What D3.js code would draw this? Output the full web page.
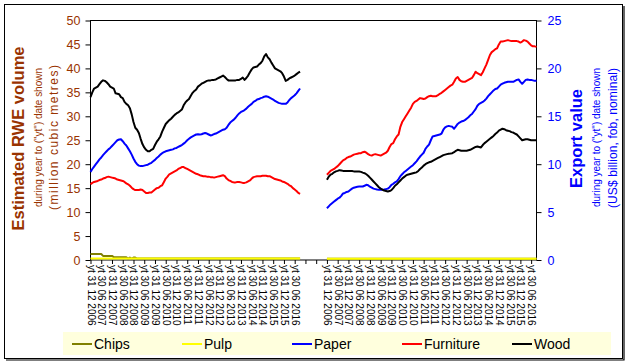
<!DOCTYPE html>
<html>
<head>
<meta charset="utf-8">
<script src="https://cdn.jsdelivr.net/npm/d3@7"></script>
<style>
  body { margin: 0; background: #fff; }
  svg { display: block; font-family: "Liberation Sans", Arial, sans-serif; }
</style>
</head>
<body>
<div id="chart"></div>
<script>
// tick labels, one every 6 months, shared by both halves of the x axis
var tickLabels = ["yt 31 12 2006", "yt 30 06 2007", "yt 31 12 2007", "yt 30 06 2008", "yt 31 12 2008",
  "yt 30 06 2009", "yt 31 12 2009", "yt 30 06 2010", "yt 31 12 2010", "yt 30 06 2011",
  "yt 31 12 2011", "yt 30 06 2012", "yt 31 12 2012", "yt 30 06 2013", "yt 31 12 2013",
  "yt 30 06 2014", "yt 31 12 2014", "yt 30 06 2015", "yt 31 12 2015", "yt 30 06 2016"];

var seriesNames = ["Chips", "Pulp", "Paper", "Furniture", "Wood"];
var seriesColors = ["#808000", "#ffff00", "#0000ff", "#ff0000", "#000000"];

// RWE volume, million m3, monthly yt Dec 2006 .. Sep 2016 (left half, left axis)
var volChips = [1.25, 1.25, 1.25, 1.25, 1.25, 1.25, 1.25, 0.85, 0.85, 0.85,
  0.85, 0.85, 0.85, 0.6, 0.6, 0.6, 0.6, 0.6, 0.6, 0.55,
  0.55, 0.3, 0.5, 0.3, 0.5, 0.5, 0.3, 0.3, 0.3, 0.3,
  0.3, 0.3, 0.3, 0.3, 0.3, 0.3, 0.3, 0.3, 0.3, 0.3,
  0.3, 0.3, 0.3, 0.3, 0.3, 0.3, 0.3, 0.3, 0.3, 0.3,
  0.3, 0.3, 0.3, 0.3, 0.3, 0.3, 0.3, 0.3, 0.3, 0.3,
  0.3, 0.3, 0.3, 0.3, 0.3, 0.3, 0.3, 0.3, 0.3, 0.3,
  0.3, 0.3, 0.3, 0.3, 0.3, 0.3, 0.3, 0.3, 0.3, 0.3,
  0.3, 0.3, 0.3, 0.3, 0.3, 0.3, 0.3, 0.3, 0.3, 0.3,
  0.3, 0.3, 0.3, 0.3, 0.3, 0.3, 0.3, 0.3, 0.3, 0.3,
  0.3, 0.3, 0.3, 0.3, 0.3, 0.3, 0.3, 0.3, 0.3, 0.3,
  0.3, 0.3, 0.3, 0.3, 0.3, 0.3, 0.3, 0.3];
var volPulp = [0.3, 0.3, 0.3, 0.3, 0.3, 0.3, 0.3, 0.3, 0.3, 0.3,
  0.3, 0.3, 0.3, 0.3, 0.3, 0.3, 0.3, 0.3, 0.3, 0.3,
  0.3, 0.3, 0.3, 0.3, 0.3, 0.3, 0.3, 0.3, 0.3, 0.3,
  0.3, 0.3, 0.3, 0.3, 0.3, 0.3, 0.3, 0.3, 0.3, 0.3,
  0.3, 0.3, 0.3, 0.3, 0.3, 0.3, 0.3, 0.3, 0.3, 0.3,
  0.3, 0.3, 0.3, 0.3, 0.3, 0.3, 0.3, 0.3, 0.3, 0.3,
  0.3, 0.3, 0.3, 0.3, 0.3, 0.3, 0.3, 0.3, 0.3, 0.3,
  0.3, 0.3, 0.3, 0.3, 0.3, 0.3, 0.3, 0.3, 0.3, 0.3,
  0.3, 0.3, 0.3, 0.3, 0.3, 0.3, 0.3, 0.3, 0.3, 0.3,
  0.3, 0.3, 0.3, 0.3, 0.3, 0.3, 0.3, 0.3, 0.3, 0.3,
  0.3, 0.3, 0.3, 0.3, 0.3, 0.3, 0.3, 0.3, 0.3, 0.3,
  0.3, 0.3, 0.3, 0.3, 0.3, 0.3, 0.3, 0.3];
var volPaper = [18.4, 19.0, 19.5, 20.0, 20.5, 21.0, 21.4, 21.9, 22.3, 22.7,
  23.1, 23.4, 23.8, 24.2, 24.6, 25.0, 25.15, 25.2, 24.8, 24.3,
  23.9, 23.3, 22.7, 22.0, 21.2, 20.5, 20.0, 19.7, 19.6, 19.6,
  19.7, 19.8, 19.9, 20.1, 20.3, 20.6, 20.9, 21.3, 21.6, 22.0,
  22.3, 22.5, 22.7, 22.8, 22.9, 23.0, 23.1, 23.3, 23.4, 23.6,
  23.8, 24.0, 24.3, 24.6, 25.0, 25.3, 25.6, 25.8, 26.0, 26.2,
  26.25, 26.2, 26.25, 26.4, 26.5, 26.4, 26.2, 26.0, 26.1, 26.3,
  26.4, 26.6, 26.8, 27.0, 27.2, 27.3, 27.6, 28.2, 28.7, 29.0,
  29.3, 29.7, 30.2, 30.6, 30.9, 31.1, 31.3, 31.6, 32.0, 32.3,
  32.6, 33.0, 33.2, 33.5, 33.6, 33.8, 33.9, 34.1, 34.2, 34.1,
  33.9, 33.7, 33.5, 33.2, 33.0, 32.8, 32.7, 32.6, 32.6, 32.6,
  32.9, 33.4, 33.8, 34.1, 34.4, 34.8, 35.3, 35.8];
var volFurniture = [15.8, 16.1, 16.3, 16.4, 16.5, 16.7, 16.8, 17.0, 17.1, 17.3,
  17.4, 17.3, 17.2, 17.1, 17.0, 16.8, 16.7, 16.6, 16.5, 16.3,
  16.0, 15.8, 15.5, 15.1, 14.8, 14.6, 14.6, 14.6, 14.7, 14.6,
  14.3, 14.0, 14.0, 14.1, 14.1, 14.4, 14.7, 15.0, 15.1, 15.4,
  15.6, 16.3, 17.0, 17.4, 17.9, 18.1, 18.3, 18.5, 18.7, 19.0,
  19.2, 19.4, 19.4, 19.2, 19.0, 18.8, 18.6, 18.4, 18.2, 18.0,
  17.9, 17.7, 17.6, 17.5, 17.5, 17.4, 17.4, 17.3, 17.3, 17.2,
  17.3, 17.4, 17.5, 17.6, 17.7, 17.5, 17.0, 16.7, 16.5, 16.3,
  16.2, 16.2, 16.3, 16.3, 16.2, 16.1, 16.1, 16.2, 16.4, 16.6,
  17.0, 17.3, 17.4, 17.5, 17.5, 17.5, 17.6, 17.6, 17.6, 17.5,
  17.5, 17.3, 17.1, 16.9, 16.8, 16.7, 16.6, 16.4, 16.3, 16.1,
  15.9, 15.6, 15.4, 15.0, 14.7, 14.4, 14.0, 13.8];
var volWood = [34.0, 35.0, 35.8, 36.0, 36.2, 36.7, 37.2, 37.5, 37.4, 37.1,
  36.7, 36.2, 36.0, 35.8, 34.8, 34.7, 34.6, 34.0, 33.8, 33.0,
  32.6, 32.3, 31.7, 30.4, 28.8, 27.6, 27.2, 26.5, 25.3, 24.2,
  23.5, 23.0, 22.7, 22.7, 23.0, 23.2, 24.0, 24.7, 25.2, 25.8,
  26.8, 27.6, 28.4, 28.8, 29.2, 29.5, 29.9, 30.3, 30.6, 30.8,
  31.1, 31.4, 32.3, 32.9, 33.3, 33.6, 34.3, 34.9, 35.3, 35.6,
  36.2, 36.5, 36.8, 37.0, 37.2, 37.4, 37.5, 37.5, 37.6, 37.6,
  37.7, 37.9, 38.1, 38.3, 38.5, 38.2, 37.8, 37.5, 37.5, 37.5,
  37.5, 37.5, 37.6, 37.6, 37.8, 38.1, 37.6, 38.0, 38.5, 39.2,
  39.8, 40.2, 40.3, 40.4, 40.8, 41.1, 41.6, 42.5, 43.0, 42.3,
  41.9, 41.2, 40.6, 40.0, 39.8, 39.6, 39.4, 39.0, 38.3, 37.4,
  37.6, 37.9, 38.1, 38.3, 38.5, 38.8, 39.1, 39.3];

// export value, US$ billion, same months (right half, right axis)
var valChips = [0.13, 0.13, 0.13, 0.13, 0.13, 0.13, 0.13, 0.13, 0.13, 0.13,
  0.13, 0.13, 0.13, 0.13, 0.13, 0.13, 0.13, 0.13, 0.13, 0.13,
  0.13, 0.13, 0.13, 0.13, 0.13, 0.13, 0.13, 0.13, 0.13, 0.13,
  0.13, 0.13, 0.13, 0.13, 0.13, 0.13, 0.13, 0.13, 0.13, 0.13,
  0.13, 0.13, 0.13, 0.13, 0.13, 0.13, 0.13, 0.13, 0.13, 0.13,
  0.13, 0.13, 0.13, 0.13, 0.13, 0.13, 0.13, 0.13, 0.13, 0.13,
  0.13, 0.13, 0.13, 0.13, 0.13, 0.13, 0.13, 0.13, 0.13, 0.13,
  0.13, 0.13, 0.13, 0.13, 0.13, 0.13, 0.13, 0.13, 0.13, 0.13,
  0.13, 0.13, 0.13, 0.13, 0.13, 0.13, 0.13, 0.13, 0.13, 0.13,
  0.13, 0.13, 0.13, 0.13, 0.13, 0.13, 0.13, 0.13, 0.13, 0.13,
  0.13, 0.13, 0.13, 0.13, 0.13, 0.13, 0.13, 0.13, 0.13, 0.13,
  0.13, 0.13, 0.13, 0.13, 0.13, 0.13, 0.13, 0.13];
var valPulp = [0.13, 0.13, 0.13, 0.13, 0.13, 0.13, 0.13, 0.13, 0.13, 0.13,
  0.13, 0.13, 0.13, 0.13, 0.13, 0.13, 0.13, 0.13, 0.13, 0.13,
  0.13, 0.13, 0.13, 0.13, 0.13, 0.13, 0.13, 0.13, 0.13, 0.13,
  0.13, 0.13, 0.13, 0.13, 0.13, 0.13, 0.13, 0.13, 0.13, 0.13,
  0.13, 0.13, 0.13, 0.13, 0.13, 0.13, 0.13, 0.13, 0.13, 0.13,
  0.13, 0.13, 0.13, 0.13, 0.13, 0.13, 0.13, 0.13, 0.13, 0.13,
  0.13, 0.13, 0.13, 0.13, 0.13, 0.13, 0.13, 0.13, 0.13, 0.13,
  0.13, 0.13, 0.13, 0.13, 0.13, 0.13, 0.13, 0.13, 0.13, 0.13,
  0.13, 0.13, 0.13, 0.13, 0.13, 0.13, 0.13, 0.13, 0.13, 0.13,
  0.13, 0.13, 0.13, 0.13, 0.13, 0.13, 0.13, 0.13, 0.13, 0.13,
  0.13, 0.13, 0.13, 0.13, 0.13, 0.13, 0.13, 0.13, 0.13, 0.13,
  0.13, 0.13, 0.13, 0.13, 0.13, 0.13, 0.13, 0.13];
var valPaper = [5.4, 5.6, 5.8, 5.95, 6.1, 6.25, 6.4, 6.5, 6.7, 6.95,
  7.0, 7.1, 7.15, 7.3, 7.45, 7.55, 7.6, 7.65, 7.67, 7.67,
  7.67, 7.75, 7.85, 7.8, 7.65, 7.55, 7.45, 7.4, 7.35, 7.33,
  7.33, 7.33, 7.35, 7.4, 7.45, 7.6, 7.85, 7.95, 8.1, 8.2,
  8.45, 8.75, 8.95, 9.15, 9.3, 9.45, 9.6, 9.75, 9.9, 10.1,
  10.3, 10.55, 10.8, 11.0, 11.2, 11.6, 11.85, 12.05, 12.5, 12.9,
  12.95, 13.0, 13.05, 13.1, 13.2, 13.6, 13.85, 13.95, 14.0, 13.95,
  13.9, 13.7, 13.95, 14.2, 14.35, 14.45, 14.5, 14.6, 14.75, 14.9,
  15.1, 15.25, 15.5, 15.75, 16.1, 16.3, 16.4, 16.5, 16.65, 16.85,
  17.1, 17.3, 17.5, 17.7, 17.85, 17.9, 18.1, 18.3, 18.4, 18.5,
  18.55, 18.6, 18.6, 18.6, 18.6, 18.7, 18.8, 18.85, 18.6, 18.4,
  18.6, 18.8, 18.85, 18.8, 18.8, 18.75, 18.7, 18.7];
var valFurniture = [8.9, 9.1, 9.3, 9.4, 9.5, 9.65, 9.8, 10.0, 10.2, 10.4,
  10.5, 10.65, 10.75, 10.8, 10.9, 11.0, 11.05, 11.1, 11.15, 11.15,
  11.25, 11.3, 11.2, 11.05, 10.95, 10.9, 11.0, 11.05, 11.0, 10.95,
  10.9, 11.0, 11.1, 11.2, 11.4, 11.8, 12.1, 12.2, 12.6, 12.9,
  13.1, 13.9, 14.4, 14.7, 15.0, 15.3, 15.6, 15.9, 16.3, 16.5,
  16.6, 16.75, 16.9, 16.85, 16.8, 16.85, 17.0, 17.1, 17.15, 17.1,
  17.1, 17.1, 17.2, 17.35, 17.45, 17.6, 17.75, 17.9, 18.05, 18.2,
  18.3, 18.6, 18.95, 19.1, 18.8, 18.65, 18.6, 18.6, 18.7, 18.8,
  18.9, 19.0, 19.3, 19.65, 19.5, 19.4, 19.3, 19.6, 20.0, 20.4,
  20.9, 21.4, 21.7, 21.85, 22.0, 22.1, 22.5, 22.8, 22.8, 22.85,
  22.9, 22.95, 22.9, 22.85, 22.85, 22.85, 22.85, 22.8, 22.7, 22.8,
  22.95, 22.9, 22.8, 22.6, 22.4, 22.3, 22.3, 22.25];
var valWood = [8.37, 8.7, 8.9, 9.0, 9.15, 9.25, 9.3, 9.38, 9.35, 9.3,
  9.3, 9.3, 9.3, 9.3, 9.28, 9.25, 9.24, 9.24, 9.24, 9.2,
  9.12, 9.06, 8.95, 8.8, 8.6, 8.4, 8.2, 8.0, 7.8, 7.6,
  7.45, 7.35, 7.25, 7.2, 7.15, 7.2, 7.3, 7.5, 7.75, 7.9,
  8.1, 8.3, 8.5, 8.65, 8.8, 8.9, 8.95, 9.0, 9.05, 9.1,
  9.15, 9.3, 9.5, 9.65, 9.85, 10.0, 10.1, 10.2, 10.25, 10.35,
  10.45, 10.55, 10.65, 10.75, 10.85, 10.95, 11.0, 11.05, 11.1, 11.12,
  11.15, 11.25, 11.4, 11.5, 11.45, 11.4, 11.4, 11.4, 11.4, 11.45,
  11.5, 11.6, 11.7, 11.8, 11.85, 11.8, 11.75, 12.0, 12.2, 12.35,
  12.5, 12.65, 12.8, 12.95, 13.15, 13.3, 13.5, 13.6, 13.7, 13.65,
  13.55, 13.5, 13.45, 13.35, 13.3, 13.2, 13.1, 12.9, 12.7, 12.5,
  12.55, 12.6, 12.6, 12.55, 12.5, 12.5, 12.5, 12.5];

var volumeSeries = [volChips, volPulp, volPaper, volFurniture, volWood];
var valueSeries = [valChips, valPulp, valPaper, valFurniture, valWood];

// layout
var W = 628, H = 362;
var plot = {left: 90.5, right: 536.5, top: 20.5, bottom: 260};
var nCats = 250;       // months across both halves incl. the gap
var rightStart = 132;  // first month of the right half
var brown = "#993300", blue = "#0000ff";

var svg = d3.select("#chart").append("svg")
    .attr("width", W)
    .attr("height", H);

svg.append("rect")
  .attr("width", W).attr("height", H).attr("fill", "#fff");

// chart border with a little shadow
svg.append("rect")
  .attr("x", 4.5).attr("y", 4.5)
  .attr("width", 618).attr("height", 354)
  .attr("fill", "none").attr("stroke", "#000");
svg.append("path")
  .attr("d", "M624,6V360H6")
  .attr("fill", "none").attr("stroke", "#000").attr("stroke-width", 1.2);

var x = d3.scaleLinear().domain([0, nCats - 1]).range([plot.left, plot.right]);
var yL = d3.scaleLinear().domain([0, 50]).range([plot.bottom, plot.top]);
var yR = d3.scaleLinear().domain([0, 25]).range([plot.bottom, plot.top]);

// x axis
var xAxis = d3.axisBottom(x)
  .tickValues(d3.range(0, nCats - 3, 6))
  .tickSize(4)
  .tickSizeOuter(0)
  .tickFormat(function(i) {
    if (i < rightStart - 12) return tickLabels[i / 6];
    if (i >= rightStart) return tickLabels[(i - rightStart) / 6];
    return "";
  });

var gx = svg.append("g")
  .attr("transform", "translate(0," + plot.bottom + ")")
  .call(xAxis);
gx.select(".domain").remove();
gx.selectAll("text")
  .attr("transform", "rotate(90)")
  .attr("x", 5)
  .attr("y", 0)
  .attr("dy", "0.35em")
  .attr("text-anchor", "start")
  .attr("font-size", "10px")
  .attr("font-family", "Liberation Sans, Arial, sans-serif")
  .attr("fill", "#000");

// left axis
var gl = svg.append("g")
  .attr("transform", "translate(" + plot.left + ",0)")
  .call(d3.axisLeft(yL).tickValues(d3.range(0, 51, 5)).tickSize(5).tickPadding(5));
gl.select(".domain").remove();
gl.selectAll("text")
  .attr("font-size", "12.5px")
  .attr("font-family", "Liberation Sans, Arial, sans-serif")
  .attr("fill", brown);

// right axis
var gr = svg.append("g")
  .attr("transform", "translate(" + plot.right + ",0)")
  .call(d3.axisRight(yR).tickValues(d3.range(0, 26, 5)).tickSize(5).tickPadding(6));
gr.select(".domain").remove();
gr.selectAll("text")
  .attr("font-size", "12.5px")
  .attr("font-family", "Liberation Sans, Arial, sans-serif")
  .attr("fill", blue);

// plot area frame
svg.append("rect")
  .attr("x", plot.left).attr("y", plot.top)
  .attr("width", plot.right - plot.left)
  .attr("height", plot.bottom - plot.top)
  .attr("fill", "none").attr("stroke", "#000");

// lines
function drawSeries(data, offset, y, color) {
  var line = d3.line()
    .defined(function(d) { return d != null; })
    .x(function(d, i) { return x(offset + i); })
    .y(function(d) { return y(d); });
  svg.append("path")
    .datum(data)
    .attr("d", line)
    .attr("fill", "none")
    .attr("stroke", color)
    .attr("stroke-width", 2)
    .attr("stroke-linejoin", "round");
}

seriesNames.forEach(function(name, k) {
  drawSeries(volumeSeries[k], 0, yL, seriesColors[k]);
  drawSeries(valueSeries[k], rightStart, yR, seriesColors[k]);
});

// axis titles
function vText(cx, cy, str, size, weight, color, len) {
  var t = svg.append("text")
    .attr("transform", "translate(" + cx + "," + cy + ") rotate(-90)")
    .attr("text-anchor", "middle")
    .attr("dy", "0.35em")
    .attr("font-size", size + "px")
    .attr("font-weight", weight)
    .attr("fill", color)
    .text(str);
  if (len) t.attr("textLength", len).attr("lengthAdjust", "spacing");
}

vText(18, 138.5, "Estimated RWE volume", 16.5, "bold", brown);
vText(38.5, 137.5, "during year to (\"yt\") date shown", 10, "normal", brown, 139);
vText(53.5, 137.5, "(million cubic metres)", 12, "normal", brown, 145);

vText(576, 138.5, "Export value", 16.5, "bold", blue);
vText(596, 137.5, "during year to (\"yt\") date shown", 10, "normal", blue, 139);
vText(613, 138, "(US$ billion, fob, nominal)", 12, "normal", blue, 140);

// legend
svg.append("rect")
  .attr("x", 63).attr("y", 332)
  .attr("width", 548).attr("height", 23)
  .attr("fill", "#ffffdd");

var legend = svg.selectAll(".legend")
  .data(seriesNames)
  .enter().append("g")
    .attr("class", "legend")
    .attr("transform", function(d, i) { return "translate(" + (72 + i * 110) + ",344)"; });

legend.append("line")
  .attr("x1", 0).attr("x2", 20)
  .attr("stroke", function(d, i) { return seriesColors[i]; })
  .attr("stroke-width", 2);

legend.append("text")
  .attr("x", 22)
  .attr("dy", "0.35em")
  .attr("font-size", "14px")
  .attr("fill", "#000")
  .text(function(d) { return d; });
</script>
</body>
</html>
